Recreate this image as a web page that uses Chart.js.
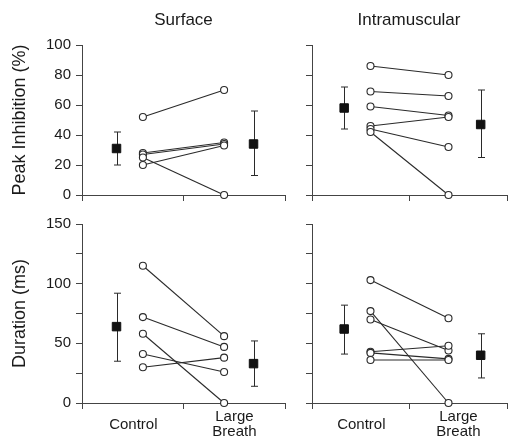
<!DOCTYPE html>
<html>
<head>
<meta charset="utf-8">
<script src="https://cdn.jsdelivr.net/npm/chart.js@4"></script>
<style>
  body { margin: 0; background: #fff; }
  #wrap { position: relative; width: 515px; height: 448px; }
  canvas { position: absolute; left: 0; top: 0; }
</style>
</head>
<body>
<div id="wrap">
  <canvas id="supPico" width="515" height="448"></canvas>
  <canvas id="intraPico" width="515" height="448"></canvas>
  <canvas id="supDuracao" width="515" height="448"></canvas>
  <canvas id="intraDuracao" width="515" height="448"></canvas>
</div>
<script>
const categories = ['Control', ['Large', 'Breath']];
const columnTitles = ['Surface', 'Intramuscular'];
const rowTitles = ['Peak Inhibition (%)', 'Duration (ms)'];

// Surface, peak inhibition (%)
const surfacePeakControl = [52, 28, 27, 25, 20];
const surfacePeakBreath = [70, 35, 34, 0, 33];
const surfacePeakMean = [31, 34];
const surfacePeakLow = [20, 13];
const surfacePeakHigh = [42, 56];

// Intramuscular, peak inhibition (%)
const intraPeakControl = [86, 69, 59, 46, 44, 42];
const intraPeakBreath = [80, 66, 53, 52, 32, 0];
const intraPeakMean = [58, 47];
const intraPeakLow = [44, 25];
const intraPeakHigh = [72, 70];

// Surface, duration (ms)
const surfaceDurControl = [115, 72, 58, 41, 30];
const surfaceDurBreath = [56, 47, 0, 26, 38];
const surfaceDurMean = [64, 33];
const surfaceDurLow = [35, 14];
const surfaceDurHigh = [92, 52];

// Intramuscular, duration (ms)
const intraDurControl = [103, 77, 70, 43, 42, 36];
const intraDurBreath = [71, 0, 44, 48, 37, 36];
const intraDurMean = [62, 40];
const intraDurLow = [41, 21];
const intraDurHigh = [82, 58];

const axisColor = '#444';
const lineColor = '#2a2a2a';
const textColor = '#1a1a1a';
const fontFamily = '"Liberation Sans", Arial, sans-serif';

// places on a 0..10 x axis
const posLeft = { mean: [1.7, 8.45], subj: [3.0, 7.0] };
const posRight = { mean: [1.65, 8.65], subj: [3.0, 7.0] };
const labelPos = [2.53, 7.51];
const axisTicks = [0, 5, 10];

const errorBars = {
    id: 'errorBars',
    beforeDatasetsDraw(chart) {
        const ctx = chart.ctx;
        const xs = chart.scales.x, ys = chart.scales.y;
        chart.data.datasets.forEach(ds => {
            if (!ds.low) return;
            ds.data.forEach((p, i) => {
                const x = Math.round(xs.getPixelForValue(p.x)) + 0.5;
                const y1 = ys.getPixelForValue(ds.low[i]);
                const y2 = ys.getPixelForValue(ds.high[i]);
                ctx.save();
                ctx.strokeStyle = lineColor;
                ctx.lineWidth = 1;
                ctx.beginPath();
                ctx.moveTo(x, y1); ctx.lineTo(x, y2);
                ctx.moveTo(x - 3.5, y1); ctx.lineTo(x + 3.5, y1);
                ctx.moveTo(x - 3.5, y2); ctx.lineTo(x + 3.5, y2);
                ctx.stroke();
                ctx.restore();
            });
        });
    }
};

function makePanel(id, p) {
    const pos = p.left ? posLeft : posRight;
    const datasets = [];
    datasets.push({
        data: pos.mean.map((x, i) => ({ x, y: p.mean[i] })),
        low: p.low, high: p.high,
        showLine: false, pointStyle: 'rect', pointRadius: 6,
        pointBackgroundColor: '#111', pointBorderColor: '#111', pointBorderWidth: 1,
        clip: false, order: 0
    });
    const circles = [];
    p.control.forEach((c, i) => {
        circles.push({ x: pos.subj[0], y: c });
        circles.push({ x: pos.subj[1], y: p.breath[i] });
    });
    datasets.push({
        data: circles, showLine: false, pointRadius: 3.5,
        pointBackgroundColor: '#fff', pointBorderColor: lineColor, pointBorderWidth: 1.1,
        clip: false, order: 1
    });
    p.control.forEach((c, i) => {
        datasets.push({
            data: [{ x: pos.subj[0], y: c }, { x: pos.subj[1], y: p.breath[i] }],
            showLine: true, borderColor: lineColor, borderWidth: 1.1, pointRadius: 0,
            clip: false, order: 2
        });
    });

    const xTickValues = p.bottom ? [0, labelPos[0], 5, labelPos[1], 10] : axisTicks;

    new Chart(document.getElementById(id), {
        type: 'scatter',
        data: { datasets },
        plugins: [errorBars],
        options: {
            responsive: false,
            animation: false,
            events: [],
            layout: {
                padding: {
                    left: p.left ? 0 : 303,
                    right: p.left ? 230 : 0,
                    top: p.bottom ? 224 : 0,
                    bottom: p.bottom ? 0 : 243
                }
            },
            plugins: {
                legend: { display: false },
                tooltip: { enabled: false },
                title: {
                    display: !p.bottom,
                    text: p.title,
                    color: textColor,
                    font: { family: fontFamily, size: 17, weight: 'normal' },
                    padding: { top: 9.8, bottom: 14.8 },
                    fullSize: !p.left
                }
            },
            scales: {
                x: {
                    type: 'linear', min: 0, max: 10,
                    afterBuildTicks: s => { s.ticks = xTickValues.map(v => ({ value: v })); },
                    afterFit: s => { s.height = p.bottom ? 45 : 10; },
                    border: { display: true, color: axisColor, width: 1 },
                    grid: {
                        display: true, drawOnChartArea: false, drawTicks: true, tickLength: 6,
                        color: axisColor,
                        tickColor: c => labelPos.includes(c.tick && c.tick.value) ? 'rgba(0,0,0,0)' : axisColor
                    },
                    ticks: {
                        autoSkip: false, maxRotation: 0, padding: 8, crossAlign: 'center',
                        color: textColor,
                        font: { family: fontFamily, size: 15, lineHeight: 1.0 },
                        callback: v => {
                            const k = labelPos.indexOf(v);
                            return p.bottom && k >= 0 ? categories[k] : '';
                        }
                    }
                },
                y: {
                    min: 0, max: p.yMax,
                    afterFit: s => { s.width = p.left ? 82 : 9; },
                    border: { display: true, color: axisColor, width: 1 },
                    grid: { display: true, drawOnChartArea: false, drawTicks: true, tickLength: 6, color: axisColor },
                    ticks: {
                        stepSize: p.yStep, padding: 5, color: textColor,
                        font: { family: fontFamily, size: 15 },
                        callback: v => (p.left && v % p.labelEvery === 0) ? v : ''
                    },
                    title: {
                        display: p.left,
                        text: p.yTitle,
                        color: textColor,
                        font: { family: fontFamily, size: 18 },
                        padding: { top: 9, bottom: 0 }
                    }
                }
            }
        }
    });
}

makePanel('supPico', {
    left: true, bottom: false, title: columnTitles[0], yTitle: rowTitles[0],
    yMax: 100, yStep: 20, labelEvery: 20,
    control: surfacePeakControl, breath: surfacePeakBreath,
    mean: surfacePeakMean, low: surfacePeakLow, high: surfacePeakHigh
});
makePanel('intraPico', {
    left: false, bottom: false, title: columnTitles[1], yTitle: '',
    yMax: 100, yStep: 20, labelEvery: 20,
    control: intraPeakControl, breath: intraPeakBreath,
    mean: intraPeakMean, low: intraPeakLow, high: intraPeakHigh
});
makePanel('supDuracao', {
    left: true, bottom: true, title: '', yTitle: rowTitles[1],
    yMax: 150, yStep: 25, labelEvery: 50,
    control: surfaceDurControl, breath: surfaceDurBreath,
    mean: surfaceDurMean, low: surfaceDurLow, high: surfaceDurHigh
});
makePanel('intraDuracao', {
    left: false, bottom: true, title: '', yTitle: '',
    yMax: 150, yStep: 25, labelEvery: 50,
    control: intraDurControl, breath: intraDurBreath,
    mean: intraDurMean, low: intraDurLow, high: intraDurHigh
});
</script>
</body>
</html>
